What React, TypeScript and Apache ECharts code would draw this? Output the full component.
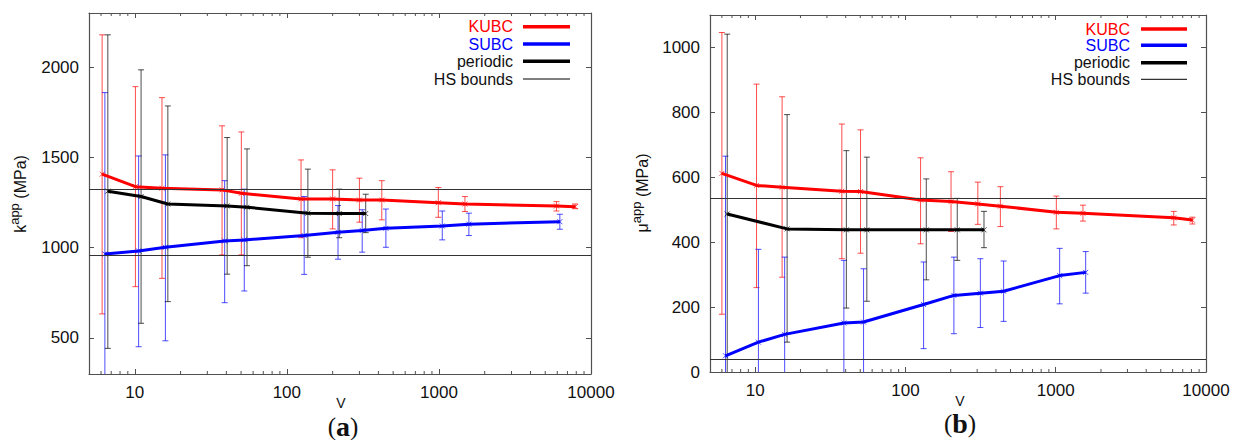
import React, { useEffect, useRef } from "react";
import * as echarts from "echarts";

// ---------- data: panel (a) apparent bulk modulus k ----------
const kubcK_V = [6.1, 10.1, 15.1, 37.5, 50.2, 124, 200, 300, 421, 991, 1483, 5930, 7870];
const kubcK = [1407, 1338, 1329, 1320, 1301, 1270, 1270, 1264, 1264, 1249, 1242, 1231, 1227];
const kubcK_lo = [633, 784, 830, 960, 960, 1055, 1104, 1141, 1154, 1168, 1200, 1203, 1216];
const kubcK_hi = [2179, 1892, 1831, 1675, 1641, 1486, 1431, 1385, 1371, 1333, 1283, 1255, 1242];

const subcK_V = [6.36, 10.6, 15.9, 39, 52.5, 130, 217, 313, 448, 1052, 1574, 6240];
const subcK = [965, 982, 1002, 1037, 1043, 1067, 1085, 1095, 1107, 1120, 1130, 1144];
const subcK_lo = [70, 451, 484, 695, 760, 852, 936, 975, 1002, 1043, 1067, 1102];
const subcK_hi = [1859, 1508, 1514, 1371, 1324, 1283, 1233, 1210, 1214, 1203, 1191, 1185];

const perK_V = [6.65, 11.0, 16.5, 40.5, 54.7, 137.5, 221, 330];
const perK = [1313, 1283, 1242, 1231, 1224, 1191, 1189, 1189];
const perK_lo = [442, 581, 701, 853, 900, 947, 1055, 1083];
const perK_hi = [2179, 1985, 1785, 1610, 1547, 1435, 1324, 1296];

const hsK = [958, 1322];

// ---------- data: panel (b) apparent shear modulus mu ----------
const kubcMu_V = [6.0, 10.2, 15.1, 37.7, 50.2, 126, 201, 303, 428, 1009, 1517, 6100, 8110];
const kubcMu = [612, 575, 569, 557, 556, 530, 525, 518, 511, 492, 489, 475, 468];
const kubcMu_lo = [178, 260, 292, 349, 366, 395, 433, 455, 448, 441, 465, 453, 456];
const kubcMu_hi = [1046, 887, 848, 764, 746, 660, 617, 585, 571, 542, 514, 495, 477];

const subcMu_V = [6.34, 10.5, 15.7, 38.9, 52.6, 132, 210, 315, 450, 1062, 1582];
const subcMu = [50, 92, 116, 151, 154, 208, 236, 243, 249, 297, 307];
const subcMu_lo = [-565, -194, -122, -42, -10, 72, 118, 137, 156, 210, 243];
const subcMu_hi = [665, 378, 354, 344, 318, 339, 354, 349, 342, 381, 371];

const perMu_V = [6.51, 16.3, 40.4, 55.3, 137.5, 221, 333];
const perMu = [487, 441, 438, 438, 438, 438, 438];
const perMu_lo = [-67, 92, 197, 218, 284, 344, 383];
const perMu_hi = [1041, 793, 682, 662, 595, 535, 495];

const hsMu = [39, 534];

// ---------- axes ----------
const xMin = 5;
const xMax = 10000;
const minorTicks = [6, 7, 8, 9, 20, 30, 40, 50, 60, 70, 80, 90, 200, 300, 400, 500, 600, 700, 800, 900,
  2000, 3000, 4000, 5000, 6000, 7000, 8000, 9000];
const yRangeK = [300, 2300];
const yStepK = 500;
const yRangeMu = [0, 1100];
const yStepMu = 200;

const legendNames = ["KUBC", "SUBC", "periodic", "HS bounds"];
const RED = "#ff0000";
const BLUE = "#0000ff";
const BLACK = "#000000";
const AXIS = "#505050";
const FONT = "'Liberation Sans', Arial, Helvetica, sans-serif";
const SERIF = "'Liberation Serif', 'DejaVu Serif', serif";

function errSeries(color: string, V: number[], mid: number[], lo: number[], hi: number[], gi: number) {
  return {
    type: "custom",
    xAxisIndex: gi * 2,
    yAxisIndex: gi * 2,
    clip: true,
    z: 2,
    silent: true,
    data: V.map((v, i) => [v, mid[i], lo[i], hi[i]]),
    encode: { x: 0, y: [1, 2, 3] },
    renderItem: (params: any, api: any) => {
      const x = api.value(0);
      const c = api.coord([x, api.value(1)]);
      const l = api.coord([x, api.value(2)]);
      const h = api.coord([x, api.value(3)]);
      const w = 3;
      const m = 2.5;
      const st = { stroke: color, lineWidth: 1, opacity: 0.7 };
      return {
        type: "group",
        children: [
          { type: "line", shape: { x1: c[0], y1: l[1], x2: c[0], y2: h[1] }, style: st },
          { type: "line", shape: { x1: c[0] - w, y1: l[1], x2: c[0] + w, y2: l[1] }, style: st },
          { type: "line", shape: { x1: c[0] - w, y1: h[1], x2: c[0] + w, y2: h[1] }, style: st },
          { type: "line", shape: { x1: c[0] - m, y1: c[1] - m, x2: c[0] + m, y2: c[1] + m }, style: st },
          { type: "line", shape: { x1: c[0] - m, y1: c[1] + m, x2: c[0] + m, y2: c[1] - m }, style: st },
        ],
      };
    },
  };
}

function lineSeries(name: string, color: string, V: number[], mid: number[], gi: number, hs?: number[]) {
  const s: any = {
    type: "line",
    name,
    xAxisIndex: gi * 2,
    yAxisIndex: gi * 2,
    showSymbol: false,
    symbol: "none",
    z: 3,
    silent: true,
    lineStyle: { color, width: 3 },
    itemStyle: { color },
    data: V.map((v, i) => [v, mid[i]]),
  };
  if (hs) {
    s.markLine = {
      silent: true,
      symbol: ["none", "none"],
      label: { show: false },
      lineStyle: { color: "#333", width: 1, type: "solid" },
      data: hs.map((v) => ({ yAxis: v })),
    };
  }
  return s;
}

function minorSeries(gi: number, yRef: number) {
  return {
    type: "custom",
    xAxisIndex: gi * 2,
    yAxisIndex: gi * 2,
    silent: true,
    z: 5,
    data: minorTicks.map((v) => [v, yRef]),
    encode: { x: 0, y: 1 },
    renderItem: (params: any, api: any) => {
      const p = api.coord([api.value(0), api.value(1)]);
      const cs = params.coordSys;
      const st = { stroke: AXIS, lineWidth: 1 };
      return {
        type: "group",
        children: [
          { type: "line", shape: { x1: p[0], y1: cs.y + cs.height, x2: p[0], y2: cs.y + cs.height - 3 }, style: st },
          { type: "line", shape: { x1: p[0], y1: cs.y, x2: p[0], y2: cs.y + 3 }, style: st },
        ],
      };
    },
  };
}

function xAxes(gi: number) {
  const common = {
    type: "log",
    logBase: 10,
    gridIndex: gi,
    min: xMin,
    max: xMax,
    splitLine: { show: false },
    axisLine: { show: true, onZero: false, lineStyle: { color: AXIS, width: 1.2 } },
    axisTick: { show: true, inside: true, length: 5, lineStyle: { color: AXIS } },
  };
  return [
    {
      ...common,
      position: "bottom",
      axisLabel: {
        show: true,
        margin: 10,
        fontFamily: FONT,
        fontSize: 17,
        color: "#111",
        formatter: (v: number) => {
          const l = Math.log10(v);
          return Math.abs(l - Math.round(l)) < 1e-6 ? String(Math.round(v)) : "";
        },
      },
    },
    { ...common, position: "top", axisLabel: { show: false } },
  ];
}

function yAxes(gi: number, range: number[], step: number) {
  const common = {
    type: "value",
    gridIndex: gi,
    min: range[0],
    max: range[1],
    splitNumber: Math.round((range[1] - range[0]) / step),
    splitLine: { show: false },
    axisLine: { show: true, onZero: false, lineStyle: { color: AXIS, width: 1.2 } },
    axisTick: { show: true, inside: true, length: 5, lineStyle: { color: AXIS } },
  };
  return [
    {
      ...common,
      position: "left",
      axisLabel: {
        show: true,
        margin: 10,
        fontFamily: FONT,
        fontSize: 17,
        color: "#111",
        formatter: (v: number) => (Math.abs(v % step) < 1e-6 ? String(v) : ""),
      },
    },
    { ...common, position: "right", axisLabel: { show: false } },
  ];
}

function legend(xText: number, xL1: number, xL2: number, ys: number[]) {
  const colors = [RED, BLUE, "#000", "#000"];
  const widths = [3.5, 3.5, 3.5, 1];
  const children: any[] = [];
  legendNames.forEach((n, i) => {
    children.push({
      type: "text",
      x: xText,
      y: ys[i],
      style: {
        text: n,
        fill: i < 2 ? colors[i] : "#111",
        font: `16px ${FONT}`,
        align: "right",
        verticalAlign: "middle",
      },
    });
    children.push({
      type: "line",
      shape: { x1: xL1, y1: ys[i], x2: xL2, y2: ys[i] },
      style: { stroke: colors[i], lineWidth: widths[i] },
    });
  });
  return children;
}

function yName(x: number, y: number, sym: string) {
  return {
    type: "text",
    x,
    y,
    rotation: Math.PI / 2,
    style: {
      text: `{b|${sym}}{s|app}{b| (MPa)}`,
      align: "center",
      verticalAlign: "middle",
      rich: {
        b: { fontFamily: FONT, fontSize: 16, fill: "#111", lineHeight: 24, verticalAlign: "middle" },
        s: { fontFamily: FONT, fontSize: 13, fill: "#111", lineHeight: 13, verticalAlign: "top" },
      },
    },
  };
}

function xName(x: number, y: number) {
  return {
    type: "text",
    x,
    y,
    style: { text: "V", font: `14px ${FONT}`, fill: "#111", align: "center", verticalAlign: "middle" },
  };
}

function panelLabel(x: number, y: number, letter: string) {
  return {
    type: "text",
    x,
    y,
    style: {
      text: `{p|(}{l|${letter}}{p|)}`,
      align: "center",
      verticalAlign: "middle",
      rich: {
        p: { fontFamily: SERIF, fontSize: 25, fill: "#111", lineHeight: 26, verticalAlign: "middle" },
        l: { fontFamily: SERIF, fontSize: 28, fontWeight: "bold", fill: "#111", lineHeight: 26, verticalAlign: "middle" },
      },
    },
  };
}

export default function App() {
  const ref = useRef<HTMLDivElement>(null);
  useEffect(() => {
    if (!ref.current) return;
    const chart = echarts.init(ref.current, undefined, { renderer: "svg" });
    const option: any = {
      animation: false,
      backgroundColor: "#ffffff",
      grid: [
        { left: 89, top: 13, width: 502, height: 361 },
        { left: 710, top: 15, width: 496, height: 357 },
      ],
      xAxis: [...xAxes(0), ...xAxes(1)],
      yAxis: [...yAxes(0, yRangeK, yStepK), ...yAxes(1, yRangeMu, yStepMu)],
      series: [
        minorSeries(0, 1000),
        errSeries(RED, kubcK_V, kubcK, kubcK_lo, kubcK_hi, 0),
        errSeries(BLUE, subcK_V, subcK, subcK_lo, subcK_hi, 0),
        errSeries(BLACK, perK_V, perK, perK_lo, perK_hi, 0),
        lineSeries("KUBC", RED, kubcK_V, kubcK, 0),
        lineSeries("SUBC", BLUE, subcK_V, subcK, 0),
        lineSeries("periodic", BLACK, perK_V, perK, 0, hsK),
        minorSeries(1, 500),
        errSeries(RED, kubcMu_V, kubcMu, kubcMu_lo, kubcMu_hi, 1),
        errSeries(BLUE, subcMu_V, subcMu, subcMu_lo, subcMu_hi, 1),
        errSeries(BLACK, perMu_V, perMu, perMu_lo, perMu_hi, 1),
        lineSeries("KUBC", RED, kubcMu_V, kubcMu, 1),
        lineSeries("SUBC", BLUE, subcMu_V, subcMu, 1),
        lineSeries("periodic", BLACK, perMu_V, perMu, 1, hsMu),
      ],
      graphic: [
        ...legend(513, 523, 570, [26.7, 44, 61.3, 79]),
        ...legend(1130, 1141, 1187, [29, 45.3, 62.7, 79.3]),
        yName(20, 194, "k"),
        yName(642, 193, "μ"),
        xName(341, 403),
        xName(960, 401),
        panelLabel(343, 426, "a"),
        panelLabel(960, 423, "b"),
      ],
    };
    chart.setOption(option);
    return () => chart.dispose();
  }, []);
  return (
    <div
      ref={ref}
      style={{ position: "absolute", left: 0, top: 0, width: 1241, height: 440, background: "#fff" }}
    />
  );
}
